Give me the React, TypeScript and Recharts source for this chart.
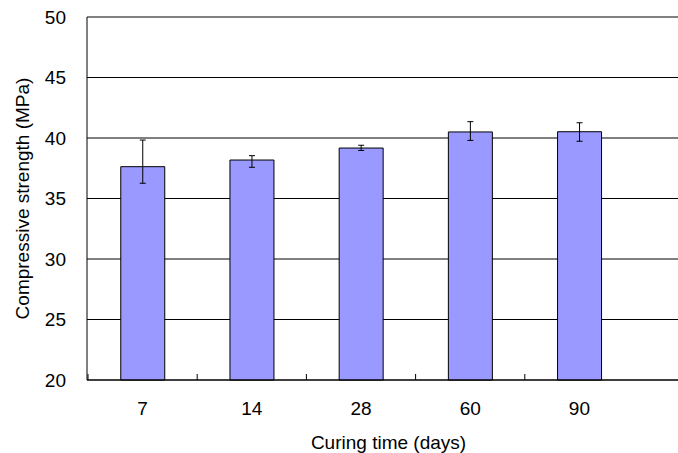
import { BarChart, Bar, XAxis, YAxis, CartesianGrid, ErrorBar } from 'recharts';

const CURING_DAYS = ['7', '14', '28', '60', '90'];
const STRENGTH = [37.63, 38.18, 39.17, 40.5, 40.52];
// [below, above] the mean
const STRENGTH_ERR: [number, number][] = [
  [1.37, 2.2],
  [0.6, 0.36],
  [0.2, 0.23],
  [0.7, 0.85],
  [0.79, 0.74],
];
const Y_TICKS = [20, 25, 30, 35, 40, 45, 50];

const data = CURING_DAYS.map((d, i) => ({ day: d, strength: STRENGTH[i], err: STRENGTH_ERR[i] }));

const FONT = '"Liberation Sans", Arial, sans-serif';
const TICK_MARGIN = 28;

function CategoryTick(props: any) {
  const { x, y, payload } = props;
  const axisY = y - TICK_MARGIN;
  const edge = payload.coordinate - (payload.offset ?? 0);
  return (
    <g>
      <line x1={edge} x2={edge} y1={axisY} y2={axisY - 6} stroke="#000" />
      <text x={x} y={axisY + 35} textAnchor="middle" fontSize={19} fill="#000" fontFamily={FONT}>
        {payload.value}
      </text>
    </g>
  );
}

function YTitle(props: any) {
  const vb = props.viewBox || { x: 0, y: 17, width: 87, height: 363 };
  const cx = vb.x + 28.5;
  const cy = vb.y + vb.height / 2;
  return (
    <text x={cx} y={cy} transform={`rotate(-90, ${cx}, ${cy})`} textAnchor="middle" fontSize={19} fill="#000" fontFamily={FONT}>
      Compressive strength (MPa)
    </text>
  );
}

export default function App() {
  return (
    <div style={{ position: 'absolute', left: 0, top: 0, background: '#fff' }}>
      <BarChart
        width={678}
        height={453}
        data={data}
        margin={{ top: 17, right: 0, bottom: 0, left: 0 }}
        barCategoryGap="30%"
        style={{ fontFamily: FONT }}
      >
        <CartesianGrid vertical={false} stroke="#000" />
        <XAxis
          dataKey="day"
          height={73}
          padding={{ left: 1, right: 44 }}
          axisLine={{ stroke: '#000' }}
          tickLine={false}
          tickSize={0}
          tickMargin={TICK_MARGIN}
          interval={0}
          tick={<CategoryTick />}
          label={{ value: 'Curing time (days)', position: 'insideBottom', offset: 4, dx: 6, fontSize: 19, fill: '#000' }}
        />
        <YAxis
          width={87}
          domain={[20, 50]}
          ticks={Y_TICKS}
          axisLine={{ stroke: '#000' }}
          tickLine={false}
          tickSize={0}
          tickMargin={21}
          tick={{ fill: '#000', fontSize: 19 }}
          label={<YTitle />}
        />
        <Bar dataKey="strength" fill="#9999FF" stroke="#000" strokeWidth={1} isAnimationActive={false}>
          <ErrorBar dataKey="err" width={3} stroke="#000" strokeWidth={1} direction="y" isAnimationActive={false} />
        </Bar>
      </BarChart>
    </div>
  );
}
